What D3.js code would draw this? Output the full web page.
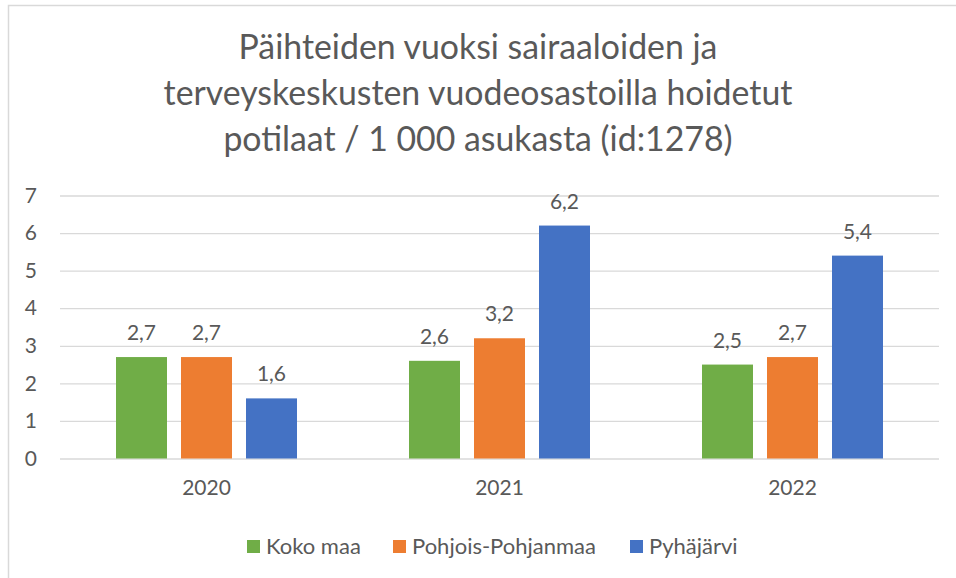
<!DOCTYPE html>
<html><head><meta charset="utf-8">
<script src="https://cdn.jsdelivr.net/npm/d3@7"></script>
<style>body{margin:0;background:#fff}svg{display:block}text{font-family:Lato,"Noto Sans",sans-serif;fill:#595959}</style>
</head><body><svg id="c" width="956" height="578"></svg>
<script>
const titleLines = ["Päihteiden vuoksi sairaaloiden ja","terveyskeskusten vuodeosastoilla hoidetut","potilaat / 1 000 asukasta (id:1278)"];
const years = ["2020","2021","2022"];
const seriesNames = ["Koko maa","Pohjois-Pohjanmaa","Pyhäjärvi"];
const kokoMaa = [2.7,2.6,2.5];
const pohjoisPohjanmaa = [2.7,3.2,2.7];
const pyhajarvi = [1.6,6.2,5.4];
const yTicks = [0,1,2,3,4,5,6,7];
const colors = ["#70AD47","#ED7D31","#4472C4"];
const values = [kokoMaa, pohjoisPohjanmaa, pyhajarvi];

const svg = d3.select("#c");
svg.append("rect").attr("x",8.5).attr("y",5.5).attr("width",1000).attr("height",1000)
  .attr("fill","none").attr("stroke","#d9d9d9").attr("stroke-width",1.5);

// title
const tg = svg.append("g");
const titleBaselines = [59,105,151];
titleLines.forEach((t,i)=>{
  tg.append("text").attr("x",478).attr("y",titleBaselines[i]).attr("text-anchor","middle")
    .style("font-size","32px").text(t);
});
const w1 = tg.selectAll("text").nodes()[1].getComputedTextLength();
const fs = 32*629/w1;
tg.selectAll("text").style("font-size",fs+"px");

const y = d3.scaleLinear().domain([0,7]).range([458.5,195.5]);
const x = d3.scaleBand().domain(years).range([60,939]).padding(0);
const inner = d3.scaleBand().domain(seriesNames).range([56,x.bandwidth()-56]).paddingInner(14/65).paddingOuter(0);

// grid
const yAxis = d3.axisLeft(y).tickValues(yTicks).tickSize(-(939-60)).tickFormat(d3.format("d")).tickPadding(23);
const ga = svg.append("g").attr("transform","translate(60,0)").call(yAxis);
ga.select(".domain").remove();
ga.selectAll(".tick line").attr("stroke","#d9d9d9").attr("stroke-width",1.3);
ga.selectAll(".tick text").style("font-size","21px").attr("fill","#595959");

// bars
seriesNames.forEach((s,si)=>{
  const g = svg.append("g");
  years.forEach((yr,i)=>{
    const v = values[si][i];
    const bx = x(yr)+inner(s);
    g.append("rect").attr("x",bx).attr("y",y(v)).attr("width",inner.bandwidth()).attr("height",y(0)-y(v)).attr("fill",colors[si]);
    g.append("text").attr("x",bx+inner.bandwidth()/2).attr("y",y(v)-17).attr("text-anchor","middle")
      .style("font-size","21px").text(d3.format(".1f")(v).replace(".",","));
  });
});

// x labels
const xAxis = d3.axisBottom(x).tickSize(0).tickPadding(22);
const gx = svg.append("g").attr("transform","translate(0,458.5)").call(xAxis);
gx.select(".domain").remove();
gx.selectAll(".tick text").style("font-size","21px").attr("fill","#595959");

// legend
const legX = [247,393,630];
seriesNames.forEach((s,i)=>{
  svg.append("rect").attr("x",legX[i]).attr("y",540).attr("width",13).attr("height",13).attr("fill",colors[i]);
  svg.append("text").attr("x",legX[i]+19).attr("y",554).style("font-size","22px").text(s);
});
</script></body></html>
